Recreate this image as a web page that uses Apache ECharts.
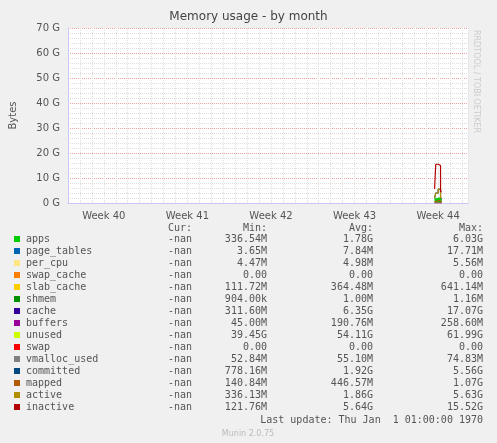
<!DOCTYPE html>
<html>
<head>
<meta charset="utf-8">
<script src="https://cdn.jsdelivr.net/npm/echarts@6/dist/echarts.min.js"></script>
<style>html,body{margin:0;padding:0;background:#f0f0f0}#main{width:497px;height:443px}</style>
</head>
<body>
<div id="main"></div>
<script>
// 数据: x 为天数 (week 40 居中于第 3 天)
var days = [30.7, 30.9, 31.1, 31.3];
var names = ['apps','page_tables','per_cpu','swap_cache','slab_cache','shmem','cache','buffers','unused',
  'swap','vmalloc_used','committed','mapped','active','inactive'];
var colors = ['#00cc00','#0066b3','#ffe680','#ff8000','#ffcc00','#008f00','#330099','#990099','#ccff00',
  '#ff0000','#808080','#00487d','#b35a00','#b38f00','#b30000'];
var stacked = [true,true,true,true,true,true,true,true,true,false,false,false,false,false,false];
// 每个序列在各时间点的值 (G)
var values = [
  [1.6, 1.8, 2.0, 1.8],
  [0.01, 0.01, 0.01, 0.01],
  [0.005, 0.005, 0.005, 0.005],
  [0, 0, 0, 0],
  [0.4, 0.5, 0.5, 0.4],
  [0.001, 0.001, 0.001, 0.001],
  [2.0, 12.0, 12.5, 3.0],
  [0.1, 0.2, 0.2, 0.1],
  [1.0, 1.5, 47.0, 0.5],
  [0, 0, 0, 0],
  [0.055, 0.055, 0.055, 0.055],
  [1.9, 4.0, 5.5, 1.9],
  [0.4, 0.8, 1.0, 0.4],
  [1.9, 4.0, 5.6, 1.9],
  [5.6, 15.5, 15.0, 4.5]
];
var cur = ['-nan','-nan','-nan','-nan','-nan','-nan','-nan','-nan','-nan','-nan','-nan','-nan','-nan','-nan','-nan'];
var mins = ['336.54M','3.65M','4.47M','0.00','111.72M','904.00k','311.60M','45.00M','39.45G','0.00','52.84M','778.16M','140.84M','336.13M','121.76M'];
var avgs = ['1.78G','7.84M','4.98M','0.00','364.48M','1.00M','6.35G','190.76M','54.11G','0.00','55.10M','1.92G','446.57M','1.86G','5.64G'];
var maxs = ['6.03G','17.71M','5.56M','0.00','641.14M','1.16M','17.07G','258.60M','61.99G','0.00','74.83M','5.56G','1.07G','5.63G','15.52G'];

var chart = echarts.init(document.getElementById('main'));
var series = names.map(function (n, i) {
  return {
    name: n, type: 'line', stack: stacked[i] ? 'a' : undefined,
    step: 'middle', showSymbol: false, animation: false,
    lineStyle: {color: colors[i], width: 1.2},
    itemStyle: {color: colors[i]},
    areaStyle: stacked[i] ? {color: colors[i], opacity: 1} : undefined,
    data: days.map(function (d, j) { return [d, values[i][j] * 1e9]; })
  };
});

var mono = 'DejaVu Sans Mono';
var g = [];
var cols = [192, 267, 373, 483];
['Cur:', 'Min:', 'Avg:', 'Max:'].forEach(function (h, k) {
  g.push({type: 'text', x: cols[k], y: 223, style: {text: h, font: '10px ' + mono, fill: '#555', textAlign: 'right'}});
});
names.forEach(function (n, i) {
  var y = 235 + i * 12;
  g.push({type: 'rect', shape: {x: 14, y: y + 1, width: 6, height: 6}, style: {fill: colors[i]}});
  g.push({type: 'text', x: 26, y: y - 1, style: {text: n, font: '10px ' + mono, fill: '#555'}});
  [cur[i], mins[i], avgs[i], maxs[i]].forEach(function (v, k) {
    g.push({type: 'text', x: cols[k], y: y - 1, style: {text: v, font: '10px ' + mono, fill: '#555', textAlign: 'right'}});
  });
});
g.push({type: 'text', x: 483, y: 415, style: {text: 'Last update: Thu Jan  1 01:00:00 1970', font: '10px ' + mono, fill: '#555', textAlign: 'right'}});
g.push({type: 'text', x: 248, y: 430, style: {text: 'Munin 2.0.75', font: '8px DejaVu Sans', fill: '#bbb', textAlign: 'center'}});
g.push({type: 'text', x: 480, y: 30, rotation: -Math.PI / 2, style: {text: 'RRDTOOL / TOBI OETIKER', font: '8px DejaVu Sans', fill: '#ccc'}});

chart.setOption({
  backgroundColor: '#f0f0f0',
  animation: false,
  title: {text: 'Memory usage - by month', left: 'center', top: 6, textStyle: {fontFamily: 'DejaVu Sans', fontSize: 12, fontWeight: 'normal', color: '#444'}},
  grid: {left: 66, right: 29, top: 28, bottom: 240, backgroundColor: '#fff', show: true, borderWidth: 0},
  xAxis: {
    type: 'value', min: 0, max: 33.5, interval: 1,
    axisLine: {lineStyle: {color: '#c8c8ff'}}, axisTick: {show: false},
    axisLabel: {color: '#555', fontFamily: 'DejaVu Sans', fontSize: 10, showMaxLabel: false,
      formatter: function (v) { return v % 7 === 3 ? 'Week ' + (40 + (v - 3) / 7) : ''; }},
    splitLine: {show: true, lineStyle: {color: '#ddd', type: 'dotted'}}
  },
  yAxis: {
    type: 'value', min: 0, max: 70e9, interval: 10e9,
    name: 'Bytes', nameLocation: 'middle', nameGap: 50, nameTextStyle: {color: '#555', fontFamily: 'DejaVu Sans', fontSize: 10},
    axisLine: {show: true, lineStyle: {color: '#c8c8ff'}}, axisTick: {show: false},
    axisLabel: {color: '#555', fontFamily: 'DejaVu Sans', fontSize: 10, formatter: function (v) { return v / 1e9 + ' G'; }},
    splitLine: {lineStyle: {color: '#f0a0a0', type: 'dotted'}},
    minorTick: {show: false, splitNumber: 5},
    minorSplitLine: {show: true, lineStyle: {color: '#ddd', type: 'dotted'}}
  },
  series: series,
  graphic: g
});
</script>
</body>
</html>
